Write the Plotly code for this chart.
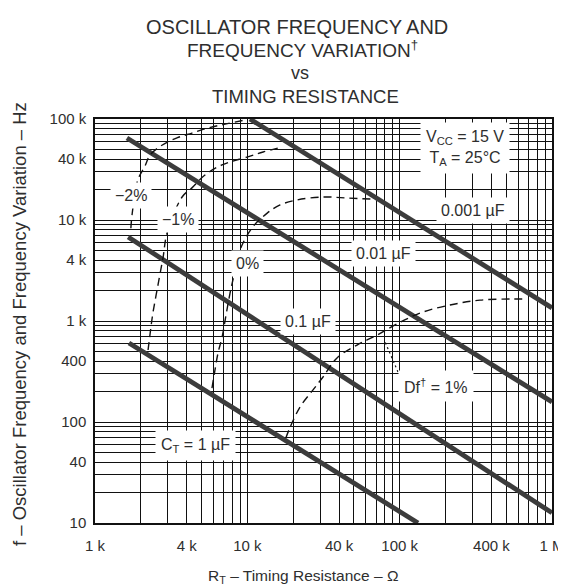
import numpy as np
import plotly.graph_objects as go

# ---- data (RT in ohms, f in Hz) ----
ct_names = ["0.001 µF", "0.01 µF", "0.1 µF", "1 µF"]
ct_rt = [[10400, 1000000], [1620, 1000000], [1650, 1000000], [1670, 132000]]
ct_f = [[100000, 1350], [64900, 158], [6800, 12.6], [605, 10]]

var_m2_rt = [1720, 1750, 1910, 2130, 2300, 2750, 3450, 4330, 5520, 7140, 9660]
var_m2_f = [8300, 11200, 24900, 34300, 44000, 55000, 65000, 72600, 81500, 89000, 97800]

var_m1_rt = [2230, 2330, 2400, 2590, 2800, 2970, 3730, 4330, 5270, 6820, 9950, 12700, 16900]
var_m1_f = [516, 873, 1200, 2270, 4300, 7400, 16900, 20800, 27900, 35100, 42000, 47100, 52800]

var_0_rt = [5860, 6130, 6420, 6830, 7250, 7700, 8180, 8960, 10700, 13500, 16400, 21200,
            31400, 45200, 65900]
var_0_f = [217, 327, 482, 695, 1150, 1890, 2850, 5050, 8300, 11700, 14100, 15800,
           16900, 16500, 16100]

var_p1_rt = [17900, 19100, 22200, 27000, 31400, 38800, 52500, 71100, 101000, 143000,
             214000, 337000, 556000, 687000]
var_p1_f = [69.5, 89, 141, 208, 279, 431, 578, 726, 977, 1230, 1440, 1610, 1650, 1650]

leader_rt = [97500, 80200]
leader_f = [313, 620]

x_tick_vals = [1e3, 4e3, 1e4, 4e4, 1e5, 4e5, 1e6]
x_tick_text = ["1 k", "4 k", "10 k", "40 k", "100 k", "400 k", "1 M"]
y_tick_vals = [10, 40, 100, 400, 1e3, 4e3, 1e4, 4e4, 1e5]
y_tick_text = ["10", "40", "100", "400", "1 k", "4 k", "10 k", "40 k", "100 k"]

FONT = "Liberation Sans, Arial, sans-serif"
TXT = "#2e2e2e"

# page body has an 8 px margin: the figure is drawn 8 px right/down
OFF = 8
PL, PR, PT, PB = 95, 552, 119, 523   # plot area in window pixels


def px_x(p):
    return (p - PL) / (PR - PL)


def px_y(p):
    return (PB - p) / (PB - PT)


def grid_ticks(lo_exp, hi_exp, labelled_vals, labelled_text):
    vals, text = [], []
    for e in range(lo_exp, hi_exp):
        for d in range(1, 10):
            vals.append(d * 10 ** e)
    vals.append(10 ** hi_exp)
    lab = {round(v): t for v, t in zip(labelled_vals, labelled_text)}
    for v in vals:
        text.append(lab.get(round(v), ""))
    return vals, text


xv, xt = grid_ticks(3, 6, x_tick_vals, x_tick_text)
yv, yt = grid_ticks(1, 5, y_tick_vals, y_tick_text)

fig = go.Figure()

for name, rt, f in zip(ct_names, ct_rt, ct_f):
    fig.add_trace(go.Scatter(x=rt, y=f, mode="lines", name=name,
                             line=dict(color="#3c3c3c", width=4.8)))

for rt, f in [(var_m2_rt, var_m2_f), (var_m1_rt, var_m1_f),
              (var_0_rt, var_0_f), (var_p1_rt, var_p1_f)]:
    fig.add_trace(go.Scatter(x=rt, y=f, mode="lines", line_shape="spline",
                             line=dict(color="#111", width=1.4, dash="8px,5px")))

fig.add_trace(go.Scatter(x=leader_rt, y=leader_f, mode="lines",
                         line=dict(color="#111", width=1.2, dash="2px,3px")))

labels = [
    ("V<sub>CC</sub> = 15 V<br>T<sub>A</sub> = 25°C", 270000, 51600, 5),
    ("0.001 µF", 303000, 12300, 4),
    ("0.01 µF", 77800, 4710, 4),
    ("0.1 µF", 25000, 1000, 4),
    ("0%", 9960, 3750, 4),
    ("−2%", 1720, 17300, 4),
    ("−1%", 3510, 10200, 4),
    ("Df<sup>†</sup> = 1%", 173000, 227, 5),
    ("C<sub>T</sub> = 1 µF", 4600, 59, 5),
]
ann = []
for text, rx, fy, pad in labels:
    ann.append(dict(text=text, x=np.log10(rx), y=np.log10(fy), xref="x", yref="y",
                    showarrow=False, bgcolor="white", borderpad=pad,
                    font=dict(family=FONT, size=16, color=TXT)))

title_lines = [("OSCILLATOR FREQUENCY AND", 27, 20, 297),
               ("FREQUENCY VARIATION<sup>†</sup>", 49, 19, 302),
               ("vs", 73, 18, 300), ("TIMING RESISTANCE", 97, 18.5, 305)]
for t, ypix, sz, xpix in title_lines:
    ann.append(dict(text=t, x=px_x(xpix), y=px_y(ypix), xref="paper",
                    yref="paper", showarrow=False, xanchor="center", yanchor="middle",
                    font=dict(family=FONT, size=sz, color=TXT)))

ann.append(dict(text="R<sub>T</sub> – Timing Resistance – Ω", x=px_x(303),
                y=px_y(576), xref="paper", yref="paper", showarrow=False,
                xanchor="center", yanchor="middle",
                font=dict(family=FONT, size=15.5, color=TXT)))
ann.append(dict(text="f – Oscillator Frequency and Frequency Variation – Hz",
                x=px_x(19), y=px_y(324), xref="paper", yref="paper",
                showarrow=False, textangle=-90, xanchor="center", yanchor="middle",
                font=dict(family=FONT, size=18.5, color=TXT)))

axis_common = dict(type="log", showgrid=True, gridcolor="#111", gridwidth=1.2,
                   ticks="", showline=True, linecolor="#111", linewidth=1.5,
                   mirror=True, zeroline=False, automargin=False,
                   tickfont=dict(family=FONT, size=15, color=TXT))

W, H = 566 - OFF, 585 - OFF
fig.update_layout(
    width=W, height=H, autosize=False,
    margin=dict(l=PL - OFF, r=W - (PR - OFF), t=PT - OFF, b=H - (PB - OFF), pad=0,
                autoexpand=False),
    paper_bgcolor="white", plot_bgcolor="white",
    showlegend=False,
    annotations=ann,
    xaxis=dict(range=[3, 6], tickmode="array", tickvals=xv, ticktext=xt,
               ticklabelstandoff=8, **axis_common),
    yaxis=dict(range=[1, 5], tickmode="array", tickvals=yv, ticktext=yt,
               ticklabelstandoff=4, **axis_common),
)

fig.write_html("out.html")
